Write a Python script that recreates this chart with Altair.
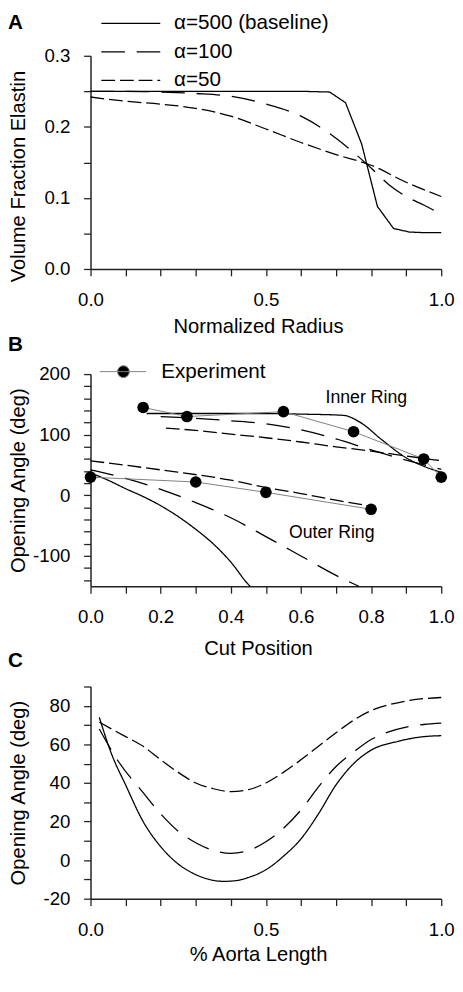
import altair as alt
import pandas as pd

FONT = "Liberation Sans"
W = 357

labels = ["α=500 (baseline)", "α=100", "α=50"]
dashes = [[1, 0], [24, 12], [14, 5]]

# ---------------- Panel A ----------------
a_x500 = [0.0, 0.2, 0.4, 0.6, 0.682, 0.727, 0.773, 0.818, 0.864, 0.909, 0.955, 1.0]
a_y500 = [0.250, 0.250, 0.250, 0.250, 0.249, 0.234, 0.176, 0.088, 0.057, 0.052, 0.051, 0.051]
a_x100 = [0.0, 0.1, 0.2, 0.3, 0.4, 0.5, 0.6, 0.7, 0.75, 0.8, 0.85, 0.9, 0.95, 1.0]
a_y100 = [0.250, 0.250, 0.249, 0.247, 0.243, 0.232, 0.215, 0.184, 0.164, 0.142, 0.119, 0.102, 0.090, 0.077]
a_x50 = [0.0, 0.1, 0.2, 0.3, 0.4, 0.5, 0.6, 0.7, 0.8, 0.9, 1.0]
a_y50 = [0.242, 0.236, 0.232, 0.226, 0.215, 0.197, 0.178, 0.161, 0.146, 0.122, 0.102]

# ---------------- Panel B ----------------
b_inner_exp_x = [0.15, 0.275, 0.55, 0.75, 0.95, 1.0]
b_inner_exp_y = [145, 130, 138, 105, 60, 30]
b_outer_exp_x = [0.0, 0.3, 0.5, 0.8]
b_outer_exp_y = [30, 22, 5, -23]

b_in500_x = [0.16, 0.3, 0.4, 0.5, 0.6, 0.72, 0.77, 0.83, 0.9, 0.95, 1.0]
b_in500_y = [135, 135, 135, 135, 134, 132, 120, 92, 62, 48, 38]
b_in100_x = [0.2, 0.3, 0.4, 0.5, 0.6, 0.7, 0.8, 0.9, 1.0]
b_in100_y = [130, 127, 123, 118, 108, 93, 75, 58, 43]
b_in50_x = [0.215, 0.3, 0.4, 0.5, 0.6, 0.7, 0.8, 0.9, 1.0]
b_in50_y = [111, 107, 101, 95, 88, 80, 73, 65, 57]

b_out500_x = [0.0, 0.05, 0.1, 0.15, 0.2, 0.25, 0.3, 0.35, 0.4, 0.45, 0.455]
b_out500_y = [37, 25, 11, -2, -17, -35, -56, -80, -110, -147, -150]
b_out100_x = [0.0, 0.1, 0.2, 0.3, 0.4, 0.5, 0.6, 0.7, 0.765]
b_out100_y = [42, 28, 10, -12, -37, -68, -100, -132, -150]
b_out50_x = [0.0, 0.2, 0.4, 0.5, 0.6, 0.7, 0.8]
b_out50_y = [57, 42, 25, 13, 3, -8, -18]

ring_label_x = [0.67, 0.566]
ring_label_y = [160, -62]
ring_label_t = ["Inner Ring", "Outer Ring"]

# ---------------- Panel C ----------------
c_x500 = [0.025, 0.06, 0.1, 0.15, 0.2, 0.25, 0.3, 0.35, 0.38, 0.42, 0.45, 0.5, 0.55, 0.6, 0.65, 0.7, 0.75, 0.8, 0.875, 0.95, 1.0]
c_y500 = [74, 55, 39, 20, 7, -2, -7.5, -10.5, -11, -10.5, -9, -5, 2, 11, 24, 39, 50, 57, 61.5, 64, 64.5]
c_x100 = [0.025, 0.08, 0.15, 0.2, 0.25, 0.3, 0.35, 0.4, 0.45, 0.5, 0.55, 0.6, 0.65, 0.7, 0.75, 0.8, 0.85, 0.9, 0.95, 1.0]
c_y100 = [68, 51, 35, 24, 15, 9, 5, 3.5, 5, 9.5, 16.5, 26, 38, 48.5, 56, 62.5, 66.5, 69, 70.3, 71]
c_x50 = [0.025, 0.1, 0.15, 0.2, 0.25, 0.3, 0.35, 0.4, 0.45, 0.5, 0.55, 0.6, 0.65, 0.7, 0.75, 0.8, 0.85, 0.9, 0.95, 1.0]
c_y50 = [71.5, 64, 59, 52, 45.5, 40, 37, 35.5, 36.5, 40, 45.5, 52, 59, 66, 72.5, 77.5, 80.5, 82.5, 83.7, 84.3]


def frame(pairs):
    rows = []
    for series, ring, xs, ys in pairs:
        for i, (x, y) in enumerate(zip(xs, ys)):
            rows.append({"x": x, "y": y, "series": series, "ring": ring, "order": i})
    return pd.DataFrame(rows)


dfA = frame([(labels[0], "", a_x500, a_y500), (labels[1], "", a_x100, a_y100), (labels[2], "", a_x50, a_y50)])
dfB = frame([
    (labels[0], "in", b_in500_x, b_in500_y), (labels[1], "in", b_in100_x, b_in100_y), (labels[2], "in", b_in50_x, b_in50_y),
    (labels[0], "out", b_out500_x, b_out500_y), (labels[1], "out", b_out100_x, b_out100_y), (labels[2], "out", b_out50_x, b_out50_y),
])
dfE = frame([("Experiment", "in", b_inner_exp_x, b_inner_exp_y), ("Experiment", "out", b_outer_exp_x, b_outer_exp_y)])
dfC = frame([(labels[0], "", c_x500, c_y500), (labels[1], "", c_x100, c_y100), (labels[2], "", c_x50, c_y50)])
dfT = pd.DataFrame({"x": ring_label_x, "y": ring_label_y, "t": ring_label_t})


def rng(a, b, step, nd=3):
    out, v = [], a
    while v <= b + 1e-9:
        out.append(round(v, nd))
        v += step
    return out


def xaxis(values, expr, title, ty):
    return alt.Axis(values=values, labelExpr=expr, title=title, titleX=W / 2 - 8, titleY=ty,
                    titleBaseline="alphabetic", labelBaseline="alphabetic", labelPadding=30)


def yaxis(values, expr, title, ty):
    return alt.Axis(values=values, labelExpr=expr, title=title, titleX=-73, titleY=ty,
                    titleBaseline="middle", labelPadding=14)


def ptitle(t, off):
    return alt.TitleParams(t, anchor="start", frame="group", dx=-84, fontSize=21, fontWeight="bold",
                           font=FONT, offset=off, color="black")


dash_scale = alt.Scale(domain=labels, range=dashes)

HA, HC = 217, 216
HB, TOPB = 221, 5   # panel B group height; plot range starts 5px below the group top

xA = alt.X("x:Q", scale=alt.Scale(domain=[0, 1], nice=False),
           axis=xaxis(rng(0, 1, 0.1), "abs(datum.value*2-round(datum.value*2))<1e-6 ? format(datum.value,'.1f') : ''", "Normalized Radius", 65))
yA = alt.Y("y:Q", scale=alt.Scale(domain=[0, 0.3], nice=False),
           axis=yaxis(rng(0, 0.3, 0.05), "abs(datum.value*10-round(datum.value*10))<1e-6 ? format(datum.value,'.1f') : ''", "Volume Fraction Elastin", HA / 2 + 14))
legA = alt.Legend(title="A", titleOrient="left", titleAnchor="start", titleBaseline="top", titleAlign="left",
                  titleFont=FONT, titleFontSize=21, titleFontWeight="bold", titleColor="black", titlePadding=78,
                  orient="none", legendX=-84, legendY=-44,
                  symbolType="M-1,0H5", symbolSize=400, symbolStrokeWidth=1.3,
                  symbolStrokeColor="black", labelFontSize=21, labelFont=FONT,
                  labelColor="black", labelOffset=53, rowPadding=8)

solidA = alt.Chart(dfA).transform_filter(alt.datum.series == labels[0]).mark_line(
    color="black", strokeWidth=1.3).encode(
    x=xA, y=yA, strokeDash=alt.StrokeDash("series:N", scale=dash_scale, legend=legA), order="order:Q")
dashA = alt.Chart(dfA).transform_filter(alt.datum.series != labels[0]).mark_line(
    color="black", strokeWidth=1.3, interpolate="monotone").encode(
    x=xA, y=yA, strokeDash=alt.StrokeDash("series:N", scale=dash_scale, legend=legA), order="order:Q")
chartA = alt.layer(solidA, dashA).properties(width=W, height=HA)

xB = alt.X("x:Q", scale=alt.Scale(domain=[0, 1], nice=False),
           axis=xaxis(rng(0, 1, 0.1), "abs(datum.value*5-round(datum.value*5))<1e-6 ? format(datum.value,'.1f') : ''", "Cut Position", 69))
yB = alt.Y("y:Q", scale=alt.Scale(domain=[-150, 200], nice=False, range=[HB, TOPB]),
           axis=yaxis(rng(-140, 200, 20, 0), "abs(datum.value/100-round(datum.value/100))<1e-6 ? ''+datum.value : ''", "Opening Angle (deg)", (HB + TOPB) / 2))

modelB = alt.Chart(dfB).mark_line(color="black", strokeWidth=1.3, interpolate="monotone").encode(
    x=xB, y=yB, strokeDash=alt.StrokeDash("series:N", scale=dash_scale, legend=None),
    detail="ring:N", order="order:Q")
expLine = alt.Chart(dfE).mark_line(strokeWidth=1).encode(
    x=xB, y=yB, detail="ring:N", order="order:Q",
    color=alt.Color("series:N", scale=alt.Scale(domain=["Experiment"], range=["#808080"]),
                    legend=alt.Legend(title=None, orient="none", legendX=23, legendY=-8,
                                      symbolType="M-2.4,0H2.3M-0.6,0A0.6,0.6,0,1,0,0.6,0A0.6,0.6,0,1,0,-0.6,0Z",
                                      symbolSize=400, symbolStrokeWidth=1, symbolFillColor="black",
                                      symbolStrokeColor="#808080", labelFontSize=21, labelFont=FONT,
                                      labelColor="black", labelOffset=28)))
expPts = alt.Chart(dfE).mark_point(filled=True, color="black", size=140, opacity=1).encode(x=xB, y=yB)
txtB = alt.Chart(dfT).mark_text(font=FONT, fontSize=18, align="left", color="black").encode(x=xB, y=yB, text="t:N")

chartB = alt.layer(modelB, expLine, expPts, txtB).properties(width=W, height=HB, title=ptitle("B", 6.5))

xC = alt.X("x:Q", scale=alt.Scale(domain=[0, 1], nice=False),
           axis=xaxis(rng(0, 1, 0.1), "abs(datum.value*2-round(datum.value*2))<1e-6 ? format(datum.value,'.1f') : ''", "% Aorta Length", 63))
yC = alt.Y("y:Q", scale=alt.Scale(domain=[-20, 90], nice=False),
           axis=yaxis(rng(-20, 90, 10, 0), "(abs(datum.value/20-round(datum.value/20))<1e-6 && datum.value<90) ? ''+datum.value : ''", "Opening Angle (deg)", HC / 2))
chartC = alt.Chart(dfC).mark_line(color="black", strokeWidth=1.3, interpolate="monotone").encode(
    x=xC, y=yC, strokeDash=alt.StrokeDash("series:N", scale=dash_scale, legend=None), order="order:Q",
).properties(width=W, height=HC, title=ptitle("C", 7))

chart = alt.vconcat(chartA, chartB, chartC, spacing=102, bounds="flush").resolve_scale(
    strokeDash="independent", color="independent").resolve_legend(
    strokeDash="independent", color="independent").properties(
    padding={"left": 0, "top": -4, "right": 0, "bottom": 0}
).configure_view(stroke=None).configure_axis(
    grid=False, domainColor="#222", domainWidth=1.5, tickColor="#222", tickWidth=1.3, tickSize=7,
    labelFont=FONT, labelFontSize=19, labelColor="black", labelOverlap=False, labelFlush=False, labelBound=False,
    titleFont=FONT, titleFontSize=20.5, titleFontWeight="normal", titleColor="black",
)

chart.save("out.html", embed_options={"renderer": "svg", "actions": False})
